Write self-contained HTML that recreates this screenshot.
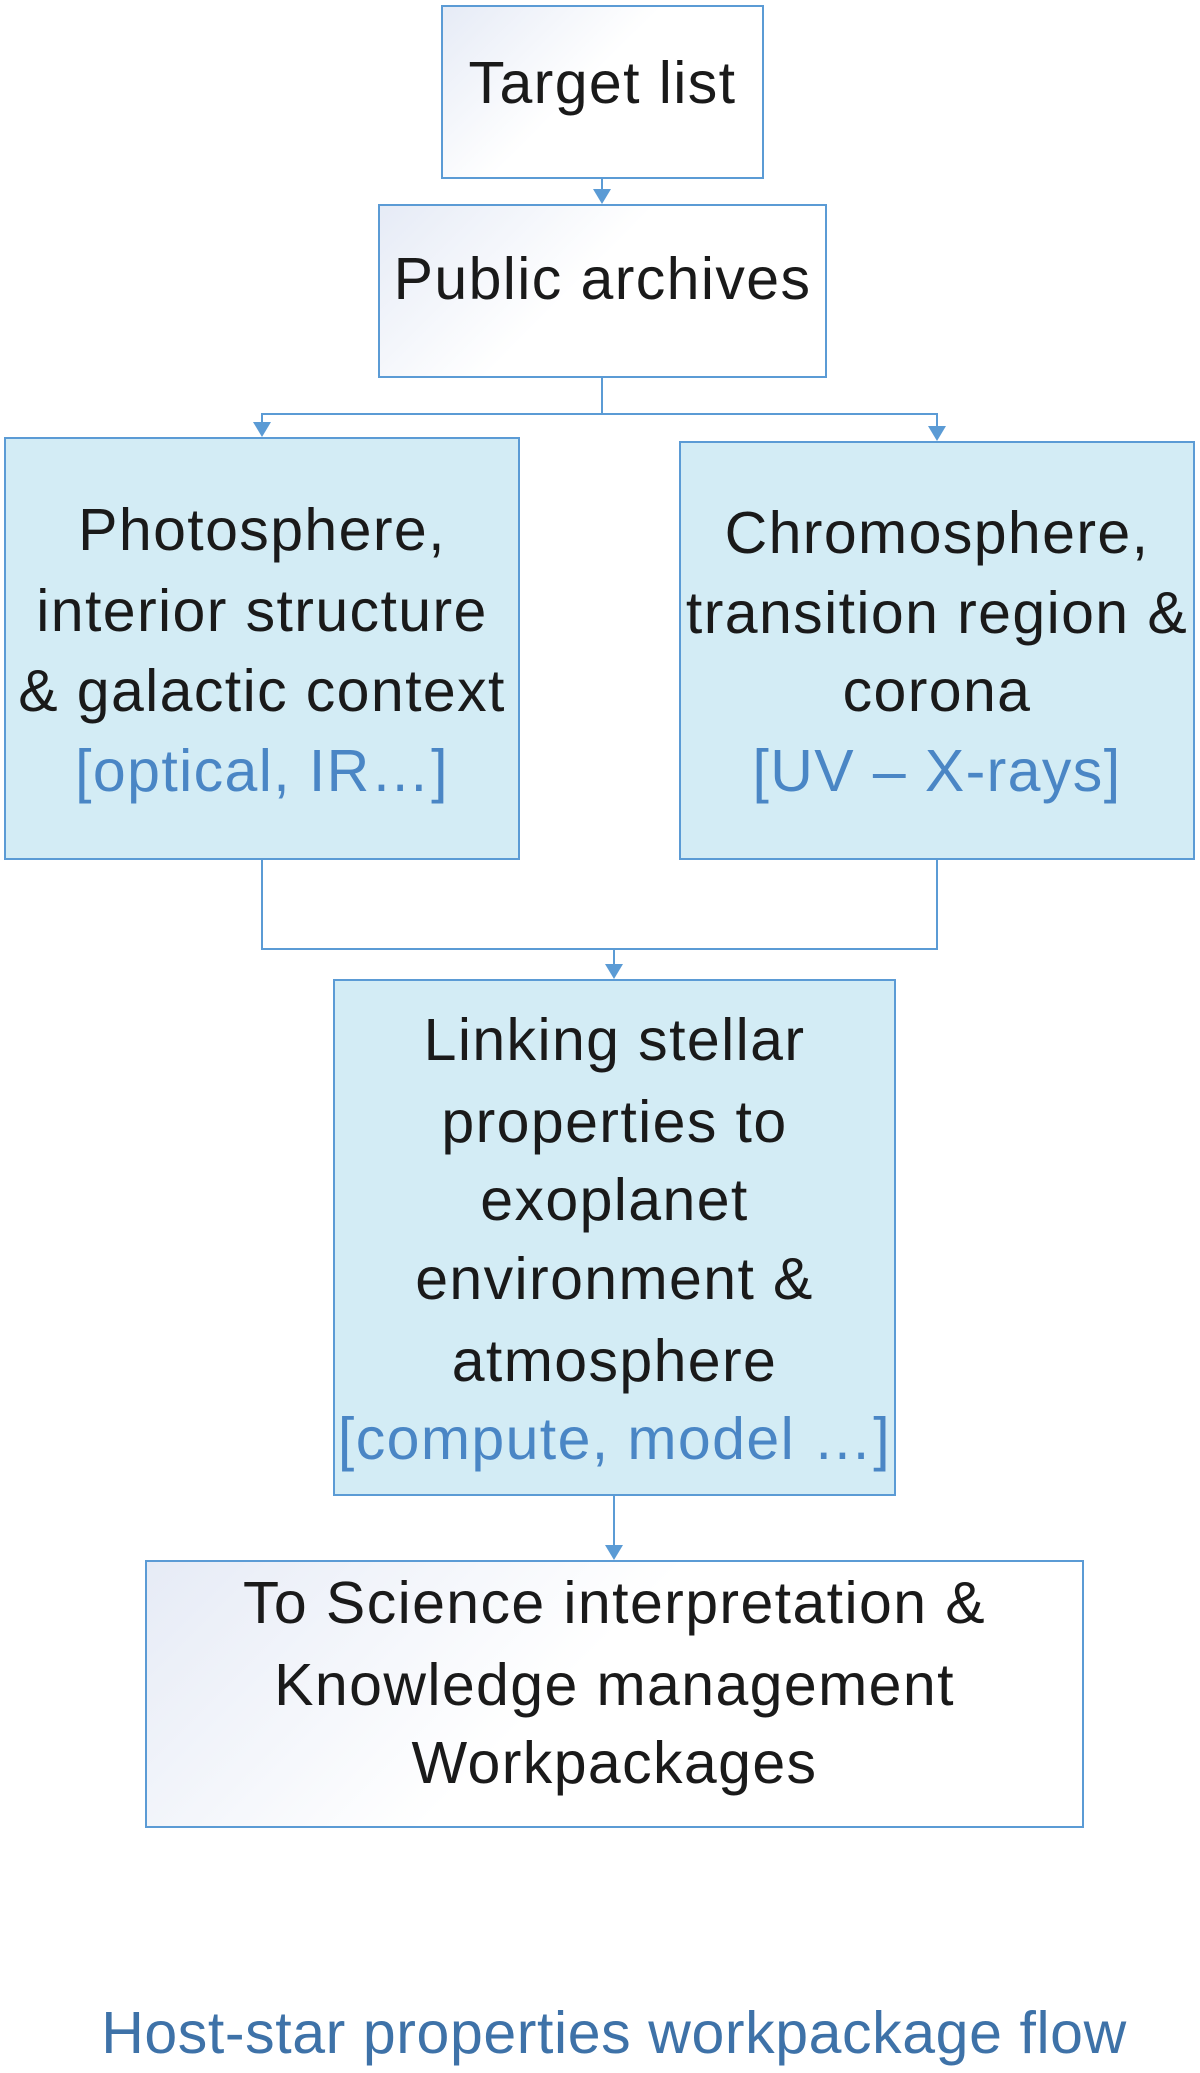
<!DOCTYPE html>
<html><head><meta charset="utf-8"><style>
body{margin:0;width:1200px;height:2069px;background:#fff;position:relative;overflow:hidden;font-family:"Liberation Sans",sans-serif;}
.b{position:absolute;box-sizing:border-box;border:2px solid #5b9bd5;}
.w{background:linear-gradient(135deg,#e6ebf6 0%,#ffffff 45%);}
.c{background:#d3ecf5;}
.t{position:absolute;left:-100px;width:calc(100% + 200px);text-align:center;font-size:59px;letter-spacing:1.4px;line-height:80px;color:#1a1a1a;white-space:nowrap;}
.bl{color:#4a86c5;}
svg{position:absolute;left:0;top:0;}
</style></head><body>
<svg width="1200" height="2069">
<g stroke="#5b9bd5" stroke-width="2" fill="none">
<line x1="602" y1="179" x2="602" y2="192"/>
<polyline points="602,378 602,414 262,414 262,425"/>
<polyline points="602,414 937,414 937,429"/>
<polyline points="262,860 262,949 937,949 937,860"/>
<line x1="614" y1="949" x2="614" y2="965"/>
<line x1="614" y1="1496" x2="614" y2="1546"/>
</g>
<g fill="#5b9bd5">
<polygon points="593,189 611,189 602,204"/>
<polygon points="253,422 271,422 262,437"/>
<polygon points="928,426 946,426 937,441"/>
<polygon points="605,964 623,964 614,979"/>
<polygon points="605,1545 623,1545 614,1560"/>
</g>
</svg>
<div class="b w" style="left:441px;top:5px;width:323px;height:174px;"><div class="t" style="top:36px;">Target list</div></div>
<div class="b w" style="left:378px;top:204px;width:449px;height:174px;"><div class="t" style="top:33px;">Public archives</div></div>
<div class="b c" style="left:4px;top:437px;width:516px;height:423px;">
<div class="t" style="top:51px;">Photosphere,</div>
<div class="t" style="top:132px;">interior structure</div>
<div class="t" style="top:212px;">&amp; galactic context</div>
<div class="t bl" style="top:292px;">[optical, IR…]</div>
</div>
<div class="b c" style="left:679px;top:441px;width:516px;height:419px;">
<div class="t" style="top:50px;">Chromosphere,</div>
<div class="t" style="top:130px;">transition region &amp;</div>
<div class="t" style="top:208px;">corona</div>
<div class="t bl" style="top:288px;">[UV – X-rays]</div>
</div>
<div class="b c" style="left:333px;top:979px;width:563px;height:517px;">
<div class="t" style="top:19px;">Linking stellar</div>
<div class="t" style="top:101px;">properties to</div>
<div class="t" style="top:179px;">exoplanet</div>
<div class="t" style="top:258px;">environment &amp;</div>
<div class="t" style="top:340px;">atmosphere</div>
<div class="t bl" style="top:418px;">[compute, model …]</div>
</div>
<div class="b w" style="left:145px;top:1560px;width:939px;height:268px;">
<div class="t" style="top:1px;">To Science interpretation &amp;</div>
<div class="t" style="top:83px;">Knowledge management</div>
<div class="t" style="top:161px;">Workpackages</div>
</div>
<div class="t" style="left:0;width:1228px;top:1993px;color:#3e72a8;letter-spacing:0.6px;">Host-star properties workpackage flow</div>
</body></html>
